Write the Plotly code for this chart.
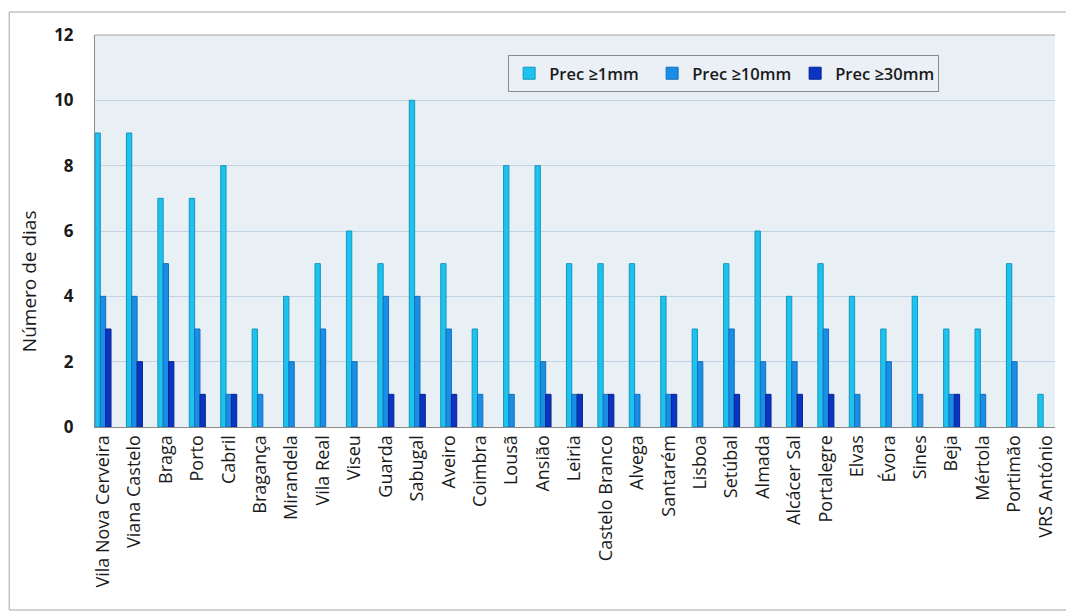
import plotly.graph_objects as go

estacoes = [
    "Vila Nova Cerveira", "Viana Castelo", "Braga", "Porto", "Cabril", "Bragança",
    "Mirandela", "Vila Real", "Viseu", "Guarda", "Sabugal", "Aveiro", "Coimbra",
    "Lousã", "Ansião", "Leiria", "Castelo Branco", "Alvega", "Santarém", "Lisboa",
    "Setúbal", "Almada", "Alcácer Sal", "Portalegre", "Elvas", "Évora", "Sines",
    "Beja", "Mértola", "Portimão", "VRS António",
]
prec_1mm = [9, 9, 7, 7, 8, 3, 4, 5, 6, 5, 10, 5, 3, 8, 8, 5, 5, 5, 4, 3,
            5, 6, 4, 5, 4, 3, 4, 3, 3, 5, 1]
prec_10mm = [4, 4, 5, 3, 1, 1, 2, 3, 2, 4, 4, 3, 1, 1, 2, 1, 1, 1, 1, 2,
             3, 2, 2, 3, 1, 2, 1, 1, 1, 2, 0]
prec_30mm = [3, 2, 2, 1, 1, 0, 0, 0, 0, 1, 1, 1, 0, 0, 1, 1, 1, 0, 1, 0,
             1, 1, 1, 1, 0, 0, 0, 1, 0, 0, 0]
y_ticks = [0, 2, 4, 6, 8, 10, 12]

series = [
    ("Prec ≥1mm", prec_1mm, "#1EC2EF", "#1596BC"),
    ("Prec ≥10mm", prec_10mm, "#1A8EE6", "#146FB8"),
    ("Prec ≥30mm", prec_30mm, "#0A34C4", "#08248C"),
]

idx = list(range(len(estacoes)))
FONT = "Open Sans, sans-serif"
TXT = "#1a1a1a"

fig = go.Figure()
for nome, vals, cor, borda in series:
    fig.add_trace(go.Bar(
        x=idx, y=vals, name=nome,
        # no outline on empty bars so zero counts stay invisible
        marker=dict(color=cor,
                    line=dict(color=borda, width=[1 if v > 0 else 0 for v in vals])),
    ))

W, H = 1066, 612
L, R, T, B = 95, 9, 35, 185
pw, ph = W - L - R, H - T - B


def px(x):
    return (x - L) / pw


def py(y):
    return (H - B - y) / ph


fig.update_layout(
    width=W, height=H,
    margin=dict(l=L, r=R, t=T, b=B),
    paper_bgcolor="white",
    plot_bgcolor="#E8EFF5",
    barmode="group",
    bargap=0.49,
    bargroupgap=0,
    font=dict(family=FONT, color=TXT),
    legend=dict(
        orientation="h",
        x=px(509), y=py(55), xanchor="left", yanchor="top",
        bgcolor="#EAF0F5", bordercolor="#8C8C8C", borderwidth=1,
        font=dict(size=16.5, family=FONT, color=TXT, weight=600),
        itemwidth=30, traceorder="normal",
        entrywidth=98,
    ),
    xaxis=dict(
        tickmode="array", tickvals=idx, ticktext=estacoes,
        tickangle=-90,
        range=[-0.255, 30.29],
        showgrid=False,
        showline=True, linecolor="#8C8C8C", linewidth=1,
        ticks="", tickfont=dict(size=18, family=FONT, color=TXT),
        zeroline=False,
    ),
    yaxis=dict(
        range=[0, 12],
        tickvals=y_ticks,
        ticktext=[f"<b>{v}</b>" for v in y_ticks],
        showgrid=True, gridcolor="#C2D3E4", gridwidth=1,
        showline=True, linecolor="#8C8C8C", linewidth=1,
        zeroline=False,
        ticks="", ticklabelstandoff=17,
        tickfont=dict(size=17, family=FONT, color=TXT),
    ),
    annotations=[
        # y-axis title, set a little below the axis middle
        dict(text="Número de dias", xref="paper", yref="paper",
             x=px(29), y=py(281), xanchor="center", yanchor="middle",
             textangle=-90, showarrow=False,
             font=dict(size=19, family=FONT, color=TXT)),
    ],
    shapes=[
        # outer chart frame
        dict(type="rect", xref="paper", yref="paper",
             x0=px(9), x1=px(1070), y0=py(610), y1=py(12),
             line=dict(color="#A6A6A6", width=1), layer="below"),
        # plot area top edge
        dict(type="line", xref="paper", yref="paper",
             x0=0, x1=1, y0=1, y1=1,
             line=dict(color="#A6A6A6", width=1)),
    ],
)

fig.write_html("out.html")
